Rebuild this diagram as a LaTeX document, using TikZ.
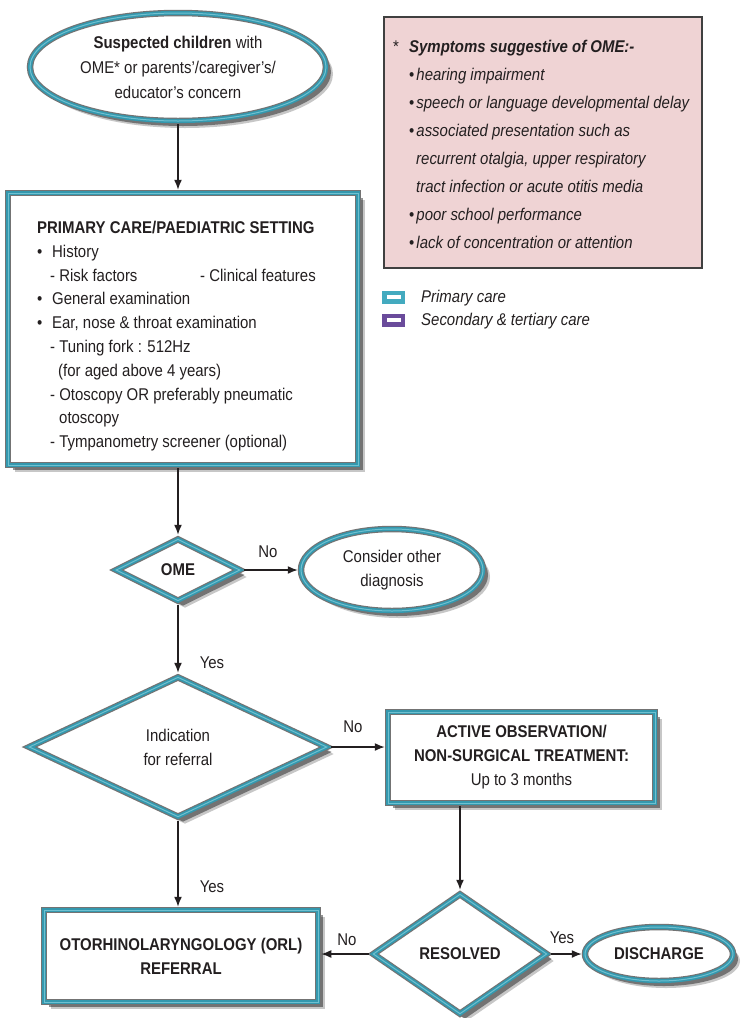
\documentclass[tikz,border=0pt]{standalone}
\usepackage{fontspec}
\setmainfont[FakeStretch=0.88]{Liberation Sans}
\usetikzlibrary{shapes.geometric,shadows,arrows.meta}
\definecolor{tealb}{HTML}{3498AE}
\definecolor{teallight}{HTML}{6FC0D0}
\definecolor{purp}{HTML}{6A4B9B}
\definecolor{legteal}{HTML}{43AABF}
\definecolor{pinkf}{HTML}{EFD3D4}
\definecolor{txt}{HTML}{231F20}
\tikzset{
  frame/.style={draw=black!55, line width=6.5pt, fill=white,
    drop shadow={shadow xshift=7pt, shadow yshift=-7pt, opacity=0.22, fill=black},
    drop shadow={shadow xshift=5pt, shadow yshift=-5pt, opacity=0.42, fill=black},
    postaction={draw=tealb, line width=4.2pt},
    postaction={draw=teallight, line width=1pt},
    inner sep=0pt, text=txt, align=center},
  boxshape/.style={frame, rectangle},
  ellshape/.style={frame, ellipse},
  dmdshape/.style={frame, diamond},
  arr/.style={draw=txt, line width=1.4pt, -{Latex[length=10pt,width=8pt]}},
  lbl/.style={text=txt, inner sep=0pt},
  legbox/.style={draw, line width=4.5pt, fill=white, minimum width=18.5pt, minimum height=8.5pt, inner sep=0pt},
  fnt/.style={font=\fontsize{17}{24}\selectfont}
}
\begin{document}
\begin{tikzpicture}[x=1pt, y=-1pt, fnt]
\fill[white] (0,0) rectangle (741,1018);
\useasboundingbox (0,0) rectangle (741,1018);

% start ellipse
\node[ellshape, minimum width=296pt, minimum height=108pt, font=\fontsize{17}{25}\selectfont] (start) at (178,67)
  {\textbf{Suspected children} with\\OME* or parents’/caregiver’s/\\educator’s concern};

% primary box
\node[boxshape, minimum width=350pt, minimum height=272pt] (primary) at (183,329) {};
\node[anchor=north west, inner sep=0pt, align=left, text=txt, font=\fontsize{17}{23.8}\selectfont] (ptext) at (37,221)
  {\textbf{PRIMARY CARE/PAEDIATRIC SETTING}\\
   \makebox[15pt][l]{•}History\\
   \hspace*{13pt}\makebox[150pt][l]{- Risk factors}- Clinical features\\
   \makebox[15pt][l]{•}General examination\\
   \makebox[15pt][l]{•}Ear, nose \& throat examination\\
   \hspace*{13pt}- Tuning fork : 512Hz\\
   \hspace*{21pt}(for aged above 4 years)\\
   \hspace*{13pt}- Otoscopy OR preferably pneumatic\\
   \hspace*{22pt}otoscopy\\
   \hspace*{13pt}- Tympanometry screener (optional)};

% OME diamond
\node[dmdshape, minimum width=126pt, minimum height=64pt] (ome) at (178,570) {\textbf{OME}};
\node[ellshape, minimum width=182pt, minimum height=82pt] (other) at (392,570) {Consider other\\diagnosis};

% indication diamond
\node[dmdshape, minimum width=300pt, minimum height=142pt] (ind) at (178,747) {Indication\\for referral};

% active observation box
\node[boxshape, minimum width=267pt, minimum height=91pt] (act) at (521.5,757.5)
  {\textbf{ACTIVE OBSERVATION/}\\\textbf{NON-SURGICAL TREATMENT:}\\Up to 3 months};

% resolved diamond
\node[dmdshape, minimum width=176pt, minimum height=122pt] (res) at (460,954) {\textbf{RESOLVED}};

% ORL box
\node[boxshape, minimum width=274pt, minimum height=92pt] (orl) at (181,956)
  {\textbf{OTORHINOLARYNGOLOGY (ORL)}\\\textbf{REFERRAL}};

% discharge
\node[ellshape, minimum width=148pt, minimum height=54pt] (dis) at (659,954) {\textbf{DISCHARGE}};

% connectors
\draw[arr] (start.south) -- (start.south |- primary.north);
\draw[arr] (primary.south -| ome.north) -- (ome.north);
\draw[arr] (ome.east) -- (other.west);
\draw[arr] (ome.south) -- (ind.north);
\draw[arr] (ind.east) -- (ind.east -| act.west);
\draw[arr] (ind.south) -- (ind.south |- orl.north);
\draw[arr] (act.south -| res.north) -- (res.north);
\draw[arr] (res.west) -- (res.west -| orl.east);
\draw[arr] (res.east) -- (dis.west);

% connector labels
\node[lbl] (l1) at (268,552) {No};
\node[lbl] (l2) at (212,663) {Yes};
\node[lbl] (l3) at (353,727) {No};
\node[lbl] (l4) at (212,887) {Yes};
\node[lbl] (l5) at (347,940) {No};
\node[lbl] (l6) at (562,938) {Yes};

% symptoms box
\node[draw=black!75, line width=1.5pt, fill=pinkf, minimum width=318pt, minimum height=251pt, inner sep=0pt] (sym) at (543,142.5) {};
\node[anchor=north west, inner sep=0pt, align=left, text=txt, font=\fontsize{17}{28}\selectfont\itshape] (symtext) at (393,40)
  {\makebox[16pt][l]{\upshape *}\textbf{Symptoms suggestive of OME:-}\\
   \hspace*{16pt}{\upshape•}\hspace{2pt}hearing impairment\\
   \hspace*{16pt}{\upshape•}\hspace{2pt}speech or language developmental delay\\
   \hspace*{16pt}{\upshape•}\hspace{2pt}associated presentation such as\\
   \hspace*{23pt}recurrent otalgia, upper respiratory\\
   \hspace*{23pt}tract infection or acute otitis media\\
   \hspace*{16pt}{\upshape•}\hspace{2pt}poor school performance\\
   \hspace*{16pt}{\upshape•}\hspace{2pt}lack of concentration or attention};

% legend
\node[legbox, draw=legteal] (legp) at (393.5,297) {};
\node[legbox, draw=purp] (legs) at (393.5,320) {};
\node[anchor=west, inner sep=0pt, text=txt, font=\fontsize{17}{24}\selectfont\itshape] (legpt) at (421,298) {Primary care};
\node[anchor=west, inner sep=0pt, text=txt, font=\fontsize{17}{24}\selectfont\itshape] (legst) at (421,321) {Secondary \& tertiary care};
\end{tikzpicture}
\end{document}
